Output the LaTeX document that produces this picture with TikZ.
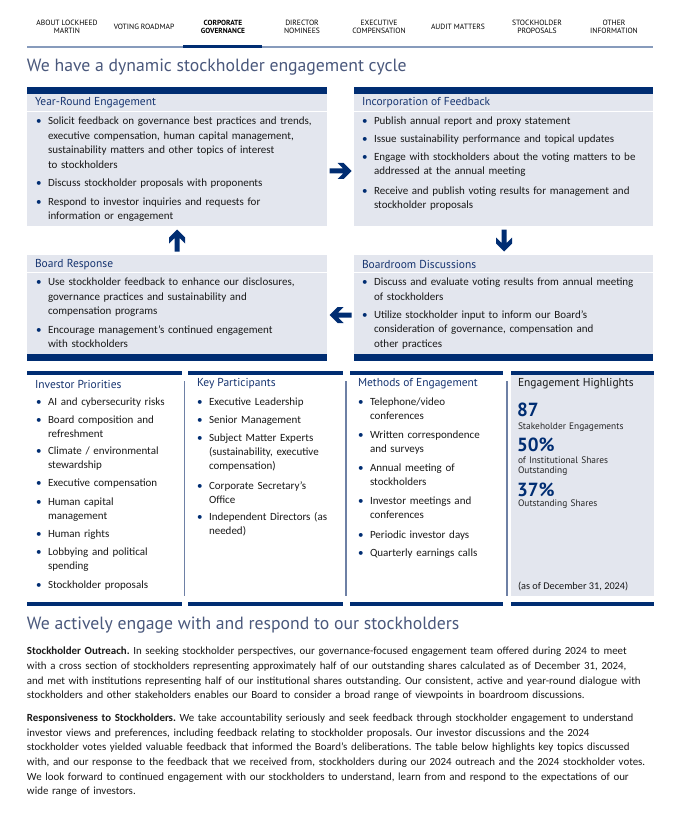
\documentclass[tikz,border=0pt]{standalone}
\usepackage{fontspec}
\setmainfont{Carlito}
\newfontfamily\hf{PT Sans}
\usetikzlibrary{calc}
\definecolor{navy}{RGB}{0,45,114}
\definecolor{boxfill}{RGB}{227,230,238}
\definecolor{hdcol}{RGB}{22,52,112}
\definecolor{titlecol}{RGB}{74,88,124}
\definecolor{sepcol}{RGB}{110,128,165}
\definecolor{navline}{RGB}{135,155,188}
\definecolor{bodytxt}{RGB}{25,25,25}
\newcommand\bl{\leavevmode\llap{\textcolor{navy}{\textbullet}\hspace{6.5pt}}}
\tikzset{
  every node/.style={inner sep=0pt, outer sep=0pt},
  cbox/.style={fill=boxfill, anchor=north west},
  navitem/.style={anchor=center, align=center, font=\hf\fontsize{7.6}{8}\selectfont, text=black},
  bigtitle/.style={anchor=west, font=\hf\fontsize{17.7}{20}\selectfont, text=titlecol},
  boxhead/.style={anchor=west, font=\hf\fontsize{11.5}{13}\selectfont, text=hdcol},
  bitem/.style={anchor=mid west, text width=290pt, align=left, font=\fontsize{11}{14.5}\selectfont, text=bodytxt},
  citem/.style={bitem, text width=140pt, font=\fontsize{11}{14.3}\selectfont},
  bignum/.style={anchor=west, font=\hf\bfseries\fontsize{19}{21}\selectfont, text=navy},
  numlabel/.style={anchor=mid west, text width=130pt, align=left, font=\hf\fontsize{9.4}{10}\selectfont, text=black!85},
  para/.style={anchor=mid west, text width=660pt, align=left, font=\frenchspacing\fontsize{10.9}{14.7}\selectfont, text=bodytxt},
  cyclearrow/.pic={\fill[navy] (11,0) -- (3,8) -- (-3,8) -- (2.5,2.5) -- (-11,2.5) -- (-11,-2.5) -- (2.5,-2.5) -- (-3,-8) -- (3,-8) -- cycle;},
  topbar/.style={fill=navy},
  colsep/.style={draw=sepcol, line width=1.6pt},
}
\begin{document}
\begin{tikzpicture}[x=1pt, y=-1pt]
\useasboundingbox[fill=white] (0,0) rectangle (695,821);

% navigation
\node[navitem] (n1) at (67,26.5) {ABOUT LOCKHEED\\MARTIN};
\node[navitem] (n2) at (144,26.5) {VOTING ROADMAP};
\node[navitem, font=\hf\bfseries\fontsize{7.4}{8}\selectfont] (n3) at (223,26.5) {CORPORATE\\GOVERNANCE};
\node[navitem] (n4) at (302,26.5) {DIRECTOR\\NOMINEES};
\node[navitem] (n5) at (379,26.5) {EXECUTIVE\\COMPENSATION};
\node[navitem] (n6) at (458,26.5) {AUDIT MATTERS};
\node[navitem] (n7) at (537,26.5) {STOCKHOLDER\\PROPOSALS};
\node[navitem] (n8) at (614,26.5) {OTHER\\INFORMATION};
\coordinate (navL) at (27,47);
\coordinate (navR) at (653,47);
\draw[navline, line width=1.5pt] (navL) -- (navR);
\draw[navy, line width=3pt] (183,47) -- (262,47);

\node[bigtitle] (t1) at (27,67) {We have a dynamic stockholder engagement cycle};

% cycle boxes
\node[cbox, minimum width=300pt, minimum height=139pt] (yr) at (27,87) {};
\node[cbox, minimum width=299pt, minimum height=139pt] (if) at (354,87) {};
\node[cbox, minimum width=300pt, minimum height=106pt] (br) at (27,255) {};
\node[cbox, minimum width=299pt, minimum height=106pt] (bd) at (354,255) {};
\fill[navy] (yr.north west) rectangle ++(300,7);
\fill[navy] (if.north west) rectangle ++(299,7);
\fill[navy] (br.south west) rectangle ++(300,-7);
\fill[navy] (bd.south west) rectangle ++(299,-7);
\draw[white, line width=1pt] (27,112) -- (327,112) (354,112) -- (653,112) (27,272) -- (327,272) (354,272) -- (653,272);

\node[boxhead] (yrh) at (35,103) {Year-Round Engagement};
\node[bitem] (yr1) at (48,122.3) {\bl Solicit feedback on governance best practices and trends,\\executive compensation, human capital management,\\sustainability matters and other topics of interest\\to stockholders};
\node[bitem] (yr2) at (48,184) {\bl Discuss stockholder proposals with proponents};
\node[bitem] (yr3) at (48,202.7) {\bl Respond to investor inquiries and requests for\\information or engagement};

\node[boxhead] (ifh) at (362,103) {Incorporation of Feedback};
\node[bitem] (if1) at (374,122) {\bl Publish annual report and proxy statement};
\node[bitem] (if2) at (374,140) {\bl Issue sustainability performance and topical updates};
\node[bitem] (if3) at (374,158) {\bl Engage with stockholders about the voting matters to be\\addressed at the annual meeting};
\node[bitem] (if4) at (374,191.7) {\bl Receive and publish voting results for management and\\stockholder proposals};

\node[boxhead] (brh) at (35,264.3) {Board Response};
\node[bitem] (br1) at (48,283.3) {\bl Use stockholder feedback to enhance our disclosures,\\governance practices and sustainability and\\compensation programs};
\node[bitem] (br2) at (48,330.7) {\bl Encourage management’s continued engagement\\with stockholders};

\node[boxhead] (bdh) at (362,264.3) {Boardroom Discussions};
\node[bitem] (bd1) at (374,283.3) {\bl Discuss and evaluate voting results from annual meeting\\of stockholders};
\node[bitem] (bd2) at (374,316) {\bl Utilize stockholder input to inform our Board’s\\consideration of governance, compensation and\\other practices};

% cycle arrows
\coordinate (a1) at ($(yr.east)!0.5!(if.west)+(0,14.5)$);
\coordinate (a2) at ($(if.south)!0.5!(bd.north)+(0.5,0)$);
\coordinate (a3) at ($(bd.west)!0.5!(br.east)+(0,7)$);
\coordinate (a4) at ($(br.north)!0.5!(yr.south)$);
\pic at (a1) {cyclearrow};
\pic[rotate=-90] at (a2) {cyclearrow};
\pic[rotate=180] at (a3) {cyclearrow};
\pic[rotate=90] at (a4) {cyclearrow};

% bottom columns
\fill[boxfill] (511,371) rectangle (654,596);
\foreach \a/\b in {27/182, 188/343, 350/503, 511/654}{
  \fill[topbar] (\a,371) rectangle (\b,374.5);
  \fill[topbar] (\a,602) rectangle (\b,606);
}
\draw[colsep] (184.5,381) -- (184.5,596);
\draw[colsep] (346,381) -- (346,596);
\draw[colsep] (507,381) -- (507,596);

\node[boxhead] (iph) at (35,384) {Investor Priorities};
\node[citem] (ip1) at (48,403) {\bl AI and cybersecurity risks};
\node[citem] (ip2) at (48,421) {\bl Board composition and\\refreshment};
\node[citem] (ip3) at (48,452.3) {\bl Climate / environmental\\stewardship};
\node[citem] (ip4) at (48,484.3) {\bl Executive compensation};
\node[citem] (ip5) at (48,503.3) {\bl Human capital\\management};
\node[citem] (ip6) at (48,535) {\bl Human rights};
\node[citem] (ip7) at (48,552.7) {\bl Lobbying and political\\spending};
\node[citem] (ip8) at (48,585.7) {\bl Stockholder proposals};

\node[boxhead] (kph) at (197,384) {Key Participants};
\node[citem] (kp1) at (209,403) {\bl Executive Leadership};
\node[citem] (kp2) at (209,420.7) {\bl Senior Management};
\node[citem] (kp3) at (209,439) {\bl Subject Matter Experts\\(sustainability, executive\\compensation)};
\node[citem] (kp4) at (209,486.7) {\bl Corporate Secretary’s\\Office};
\node[citem] (kp5) at (209,517.7) {\bl Independent Directors (as\\needed)};

\node[boxhead] (meh) at (358,384) {Methods of Engagement};
\node[citem] (me1) at (370,402.7) {\bl Telephone/video\\conferences};
\node[citem] (me2) at (370,435.7) {\bl Written correspondence\\and surveys};
\node[citem] (me3) at (370,468.7) {\bl Annual meeting of\\stockholders};
\node[citem] (me4) at (370,501.7) {\bl Investor meetings and\\conferences};
\node[citem] (me5) at (370,535.7) {\bl Periodic investor days};
\node[citem] (me6) at (370,554) {\bl Quarterly earnings calls};

\node[boxhead, text=black!90] (ehh) at (518,384) {Engagement Highlights};
\node[bignum] (h1) at (517,410) {87};
\node[numlabel] (h1l) at (518,427) {Stakeholder Engagements};
\node[bignum] (h2) at (517,445) {50\%};
\node[numlabel] (h2l) at (518,461) {of Institutional Shares\\Outstanding};
\node[bignum] (h3) at (517,489.5) {37\%};
\node[numlabel] (h3l) at (518,504.5) {Outstanding Shares};
\node[anchor=mid west, font=\fontsize{10.3}{11}\selectfont, text=bodytxt] (asof) at (518,587) {(as of December 31, 2024)};

% lower section
\node[bigtitle] (t2) at (27,625.5) {We actively engage with and respond to our stockholders};
\node[para] (p1) at (27,652.5) {\textbf{Stockholder Outreach.} In seeking stockholder perspectives, our governance-focused engagement team offered during 2024 to meet\\with a cross section of stockholders representing approximately half of our outstanding shares calculated as of December 31, 2024,\\and met with institutions representing half of our institutional shares outstanding. Our consistent, active and year-round dialogue with\\stockholders and other stakeholders enables our Board to consider a broad range of viewpoints in boardroom discussions.};
\node[para] (p2) at (27,719) {\textbf{Responsiveness to Stockholders.} We take accountability seriously and seek feedback through stockholder engagement to understand\\investor views and preferences, including feedback relating to stockholder proposals. Our investor discussions and the 2024\\stockholder votes yielded valuable feedback that informed the Board’s deliberations. The table below highlights key topics discussed\\with, and our response to the feedback that we received from, stockholders during our 2024 outreach and the 2024 stockholder votes.\\We look forward to continued engagement with our stockholders to understand, learn from and respond to the expectations of our\\wide range of investors.};
\end{tikzpicture}
\end{document}
